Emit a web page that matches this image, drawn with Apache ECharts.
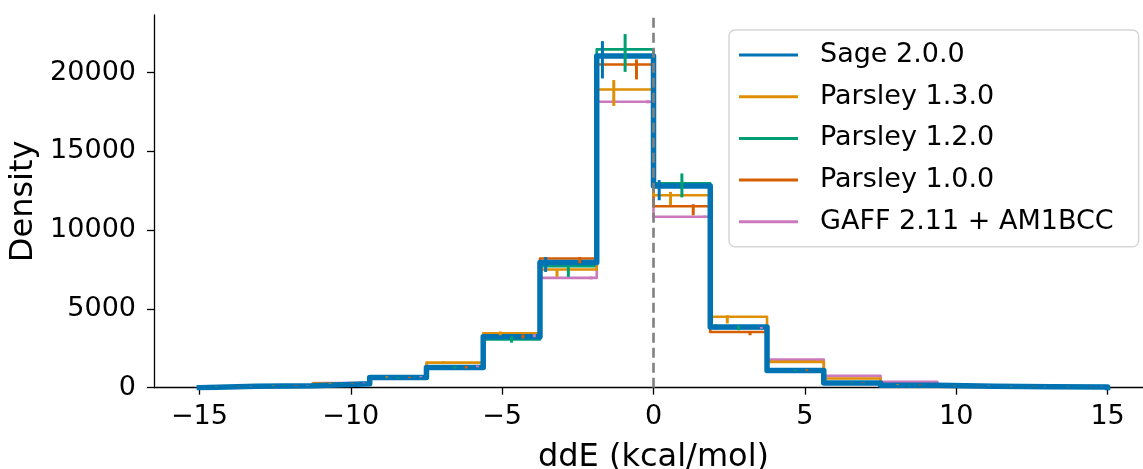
<!DOCTYPE html>
<html lang="en">
<head>
    <meta charset="UTF-8">
    <title>ddE histogram</title>
    <script src="https://cdn.jsdelivr.net/npm/echarts@6/dist/echarts.min.js"></script>
    <style>
      html, body { margin: 0; padding: 0; background: #fff; }
      #main { width: 1143px; height: 469px; }
    </style>
</head>
<body>
  <div id="main"></div>
  <script type="text/javascript">
    // bin edges (kcal/mol), 16 bins of width 1.875
    var binEdges = [-15, -13.125, -11.25, -9.375, -7.5, -5.625, -3.75, -1.875, 0,
                    1.875, 3.75, 5.625, 7.5, 9.375, 11.25, 13.125, 15];
    var xTicks = [-15, -10, -5, 0, 5, 10, 15];
    var yTicks = [0, 5000, 10000, 15000, 20000];

    var names = ['Sage 2.0.0', 'Parsley 1.3.0', 'Parsley 1.2.0', 'Parsley 1.0.0', 'GAFF 2.11 + AM1BCC'];
    var colors = ['#0173b2', '#de8f05', '#029e73', '#d55e00', '#cc78bc'];

    // histogram heights per bin
    var sage     = [90, 130, 250, 640, 1280, 3240, 7950, 21050, 12800, 3860, 1090, 300, 160, 90, 60, 50];
    var parsley13 = [90, 140, 280, 680, 1590, 3450, 7500, 18930, 12220, 4500, 1640, 580, 200, 110, 70, 50];
    var parsley12 = [90, 130, 250, 630, 1300, 3060, 7710, 21480, 12970, 3800, 1100, 320, 170, 90, 60, 50];
    var parsley10 = [90, 130, 260, 650, 1300, 3250, 8200, 20520, 11520, 3540, 1120, 330, 180, 90, 60, 50];
    var gaff     = [100, 150, 300, 700, 1350, 3300, 6970, 18150, 10850, 3800, 1780, 750, 370, 150, 80, 60];

    // error bar bounds per bin
    var sageLo = [80, 115, 230, 600, 1200, 3120, 7350, 19630, 11900, 3700, 1040, 280, 150, 80, 50, 40];
    var sageHi = [100, 145, 270, 680, 1360, 3360, 8300, 22000, 13180, 4020, 1140, 320, 170, 100, 70, 60];
    var parsley13Lo = [80, 125, 260, 640, 1500, 3330, 7040, 17890, 11590, 4080, 1580, 550, 180, 100, 60, 40];
    var parsley13Hi = [100, 155, 300, 720, 1680, 3570, 7510, 19530, 12430, 4600, 1700, 610, 220, 120, 80, 60];
    var parsley12Lo = [80, 115, 230, 590, 1220, 2860, 7040, 20050, 12080, 3650, 1050, 300, 150, 80, 50, 40];
    var parsley12Hi = [100, 145, 270, 670, 1380, 3260, 7720, 22450, 13600, 3950, 1150, 340, 190, 100, 70, 60];
    var parsley10Lo = [80, 115, 240, 610, 1220, 3130, 7900, 19570, 10950, 3330, 1070, 310, 160, 80, 50, 40];
    var parsley10Hi = [100, 145, 280, 690, 1380, 3370, 8300, 20840, 11650, 3590, 1170, 350, 200, 100, 70, 60];
    var gaffLo = [90, 135, 280, 660, 1290, 3200, 6880, 18050, 10770, 3740, 1730, 720, 350, 140, 70, 50];
    var gaffHi = [110, 165, 320, 740, 1410, 3400, 7060, 18250, 10930, 3860, 1830, 780, 390, 160, 90, 70];

    var heights = [sage, parsley13, parsley12, parsley10, gaff];
    var lows = [sageLo, parsley13Lo, parsley12Lo, parsley10Lo, gaffLo];
    var highs = [sageHi, parsley13Hi, parsley12Hi, parsley10Hi, gaffHi];

    var fontName = 'DejaVu Sans';
    var myChart = echarts.init(document.getElementById('main'), null, { renderer: 'canvas' });

    function fmt(v) {
      return v < 0 ? '\u2212' + Math.abs(v) : String(v);
    }

    var series = [];
    // step outlines, blue drawn on top
    for (var k = 0; k < names.length; k++) {
      var h = heights[k];
      var pts = [[binEdges[0], 0]];
      for (var i = 0; i < h.length; i++) {
        pts.push([binEdges[i], h[i]]);
      }
      pts.push([binEdges[binEdges.length - 1], h[h.length - 1]]);
      pts.push([binEdges[binEdges.length - 1], 0]);
      series.push({
        name: names[k],
        type: 'line',
        step: 'end',
        data: pts,
        symbol: 'none',
        showSymbol: false,
        z: 2 + (names.length - k) * 0.1,
        itemStyle: { color: colors[k] },
        lineStyle: { color: colors[k], width: k === 0 ? 5.5 : 2.6, join: 'round', cap: 'square' },
        emphasis: { disabled: true },
        silent: true
      });
    }

    // error bars, offset inside each bin per series
    for (var k = 0; k < names.length; k++) {
      var ed = [];
      for (var i = 0; i < heights[k].length; i++) {
        var w = binEdges[i + 1] - binEdges[i];
        ed.push([binEdges[i] + (k + 0.5) * w / names.length, lows[k][i], highs[k][i]]);
      }
      (function (col) {
        series.push({
          type: 'custom',
          data: ed,
          z: 3,
          silent: true,
          encode: { x: 0, y: [1, 2] },
          renderItem: function (params, api) {
            var p1 = api.coord([api.value(0), api.value(1)]);
            var p2 = api.coord([api.value(0), api.value(2)]);
            return {
              type: 'line',
              shape: { x1: p1[0], y1: p1[1], x2: p2[0], y2: p2[1] },
              style: { stroke: col, lineWidth: 3 }
            };
          }
        });
      })(colors[k]);
    }

    // dashed zero line
    series.push({
      type: 'line',
      data: [],
      z: 5,
      silent: true,
      markLine: {
        silent: true,
        animation: false,
        symbol: ['none', 'none'],
        label: { show: false },
        lineStyle: { color: '#808080', type: [10, 5], width: 2.6 },
        data: [{ xAxis: 0 }]
      }
    });

    var option = {
      animation: false,
      backgroundColor: '#ffffff',
      textStyle: { fontFamily: fontName },
      grid: {
        left: 154,
        top: 15,
        width: 999,
        height: 372.7,
        outerBoundsMode: 'none',
        containLabel: false
      },
      legend: {
        data: names,
        orient: 'vertical',
        left: 729,
        top: 30,
        icon: 'rect',
        itemWidth: 59,
        itemHeight: 3,
        itemGap: 11.7,
        padding: [10, 25, 10, 10],
        backgroundColor: 'rgba(255,255,255,0.8)',
        borderColor: '#d6d6d6',
        borderWidth: 1.5,
        borderRadius: 6,
        selectedMode: false,
        textStyle: {
          fontFamily: fontName,
          fontSize: 27,
          color: '#000',
          lineHeight: 30,
          padding: [0, 0, 0, 17]
        }
      },
      xAxis: {
        type: 'value',
        min: -16.5,
        max: 16.5,
        name: 'ddE (kcal/mol)',
        nameLocation: 'middle',
        nameGap: 54,
        nameTextStyle: { fontFamily: fontName, fontSize: 32, color: '#000' },
        axisLine: { show: true, onZero: false, lineStyle: { color: '#000', width: 1.3 } },
        axisTick: { show: true, length: 7, customValues: xTicks, lineStyle: { color: '#000', width: 1.3 } },
        axisLabel: { customValues: xTicks, margin: 16, fontFamily: fontName, fontSize: 27, color: '#000', formatter: fmt },
        splitLine: { show: false }
      },
      yAxis: {
        type: 'value',
        min: 0,
        max: 23660,
        name: 'Density',
        nameLocation: 'middle',
        nameGap: 107,
        nameRotate: 90,
        nameTextStyle: { fontFamily: fontName, fontSize: 32, color: '#000' },
        axisLine: { show: true, onZero: false, lineStyle: { color: '#000', width: 1.3 } },
        axisTick: { show: true, length: 7, customValues: yTicks, lineStyle: { color: '#000', width: 1.3 } },
        axisLabel: { customValues: yTicks, margin: 18, fontFamily: fontName, fontSize: 27, color: '#000', formatter: fmt },
        splitLine: { show: false }
      },
      series: series
    };

    myChart.setOption(option);
  </script>
</body>
</html>
